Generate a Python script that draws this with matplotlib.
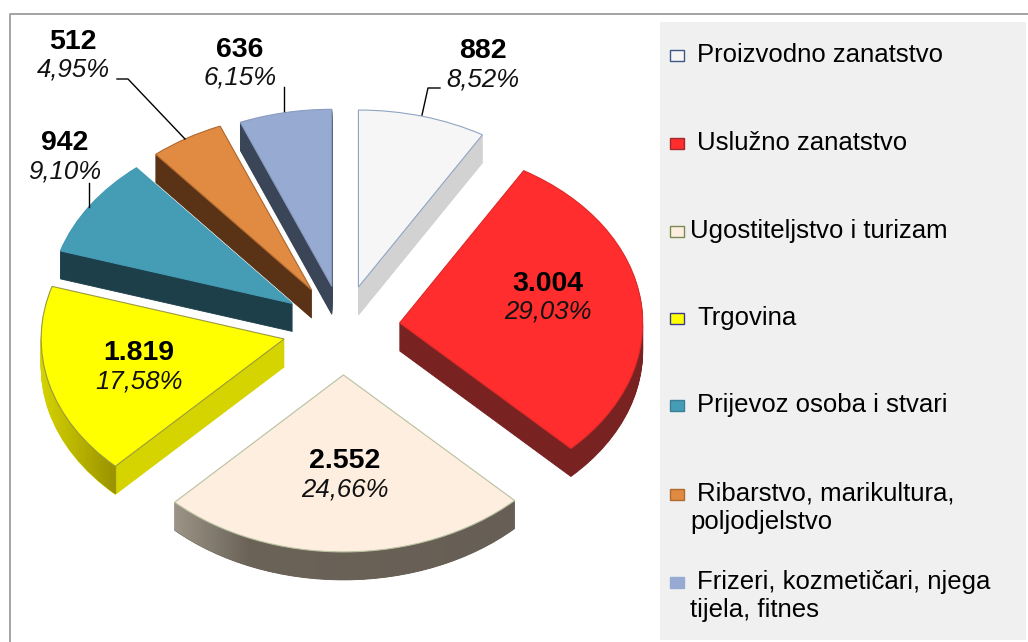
# Exploded pie with fake 3D depth: stacked pies for the side, one pie on top
import numpy as np
import matplotlib
matplotlib.use('Agg')
import matplotlib.pyplot as plt
from matplotlib.patches import Rectangle
from matplotlib.path import Path
from matplotlib.colors import LinearSegmentedColormap

plt.rcParams['font.family'] = ['Liberation Sans', 'DejaVu Sans']

categories = ['Proizvodno zanatstvo', 'Uslužno zanatstvo', 'Ugostiteljstvo i turizam',
              'Trgovina', 'Prijevoz osoba i stvari', 'Ribarstvo, marikultura,\npoljodjelstvo',
              'Frizeri, kozmetičari, njega\ntijela, fitnes']
counts = [882, 3004, 2552, 1819, 942, 512, 636]
count_labels = ['882', '3.004', '2.552', '1.819', '942', '512', '636']
share_labels = ['8,52%', '29,03%', '24,66%', '17,58%', '9,10%', '4,95%', '6,15%']

top_colors = ['#f6f6f7', '#ff2d2d', '#fdeee0', '#ffff00', '#459cb5', '#e08a42', '#96aad2']
side_colors = ['#d2d2d2', '#782222', '#675f55', '#d6d400', '#1c3f4a', '#5a3215', '#3a4558']
edge_colors = ['#8fa5c4', '#e02a2a', '#b9c2a0', '#9a9a40', '#459cb5', '#b06a30', '#8a9cc0']
swatch_edges = ['#3a5a85', '#a02a2a', '#7a8a50', '#3a3a90', '#3a7f95', '#b06a30', '#96aad2']
explode = [0.24, 0.235, 0.265, 0.25, 0.25, 0.25, 0.24]
stack_order = [2, 3, 6, 5, 1, 0, 1]

# pixel geometry of the pie
cx, cy = 343, 328
rx, ry = 243, 177
depth = 28

fig = plt.figure(figsize=(10.28, 6.42), dpi=100)
ax = fig.add_axes([0, 0, 1, 1])

# side walls, from lowest layer up to just under the top
layer_paths = [[] for _ in counts]
for d in np.arange(depth, 0, -1):
    wedges, _ = ax.pie(counts, explode=explode, colors=side_colors, startangle=90,
                       counterclock=False, center=(0, -d / ry), radius=1,
                       wedgeprops={'linewidth': 0.6})
    for i, (w, z, c) in enumerate(zip(wedges, stack_order, side_colors)):
        w.set_edgecolor(c)
        w.set_zorder(2 * z + 1)
        layer_paths[i].append(w.get_path())

wedges, _ = ax.pie(counts, explode=explode, colors=top_colors, startangle=90,
                   counterclock=False, center=(0, 0), radius=1,
                   wedgeprops={'linewidth': 0.8})
for w, z, c in zip(wedges, stack_order, edge_colors):
    w.set_edgecolor(c)
    w.set_zorder(2 * z + 2)


# shading on the curved walls of the beige and yellow slices
def shade_side(i, x0, x1, stops):
    cmap = LinearSegmentedColormap.from_list('side', stops, N=256)
    im = ax.imshow(np.linspace(0, 1, 256).reshape(1, -1), cmap=cmap, aspect='auto',
                   extent=[(x0 - cx) / rx, (x1 - cx) / rx, (cy - 600) / ry, (cy - 250) / ry],
                   zorder=2 * stack_order[i] + 1.5)
    im.set_clip_path(Path.make_compound_path(*layer_paths[i]), ax.transData)


shade_side(2, 173, 513, [(0, '#9c9587'), (0.22, '#6b6358'), (1, '#675f55')])
shade_side(3, 40, 118, [(0, '#d6d400'), (0.96, '#9a9200'), (0.97, '#d6d400'), (1, '#d6d400')])

ax.set_aspect('auto')
ax.set_xlim(-cx / rx, (1028 - cx) / rx)
ax.set_ylim((cy - 642) / ry, cy / ry)
ax.axis('off')

# overlay in pixel coordinates for frame, labels and legend
ov = fig.add_axes([0, 0, 1, 1], zorder=5)
ov.set_xlim(0, 1028)
ov.set_ylim(642, 0)
ov.axis('off')
ov.patch.set_alpha(0)

ov.plot([10, 10, 1028], [642, 14, 14], color='#a3a3a3', lw=1.4)
ov.add_patch(Rectangle((660, 22), 366, 618, fc='#f0f0f0', ec='none'))

# value labels
label_pos = [(483, 51), (548, 284), (345, 461), (139, 353), (65, 143), (73, 42), (240, 50)]
for (x, y), c, s in zip(label_pos, count_labels, share_labels):
    ov.text(x, y, c, ha='center', va='center', fontsize=20.5, fontweight='bold', color='black')
    ov.text(x, y + 28, s, ha='center', va='center', fontsize=18.5, style='italic', color='#111111')

# leader lines
ov.plot([422, 428, 440], [115, 88, 88], color='black', lw=1)
ov.plot([284, 284], [87, 111], color='black', lw=1)
ov.plot([117, 128, 185], [79, 79, 139], color='black', lw=1)
ov.plot([89, 89], [183, 207], color='black', lw=1)

# legend
legend_y = [55, 143, 231, 318, 405, 494, 582]
text_x = [697, 697, 690, 697, 697, 697, 697]
for y, tx, name, fc, ec in zip(legend_y, text_x, categories, top_colors, swatch_edges):
    ov.add_patch(Rectangle((670, y - 5.5), 14, 11, fc=fc, ec=ec, lw=1))
    lines = name.split('\n')
    ov.text(tx, y, lines[0], va='center', ha='left', fontsize=18.5, color='black')
    if len(lines) > 1:
        ov.text(690, y + 28, lines[1], va='center', ha='left', fontsize=18.5, color='black')

fig.savefig('out.png', dpi=100)
